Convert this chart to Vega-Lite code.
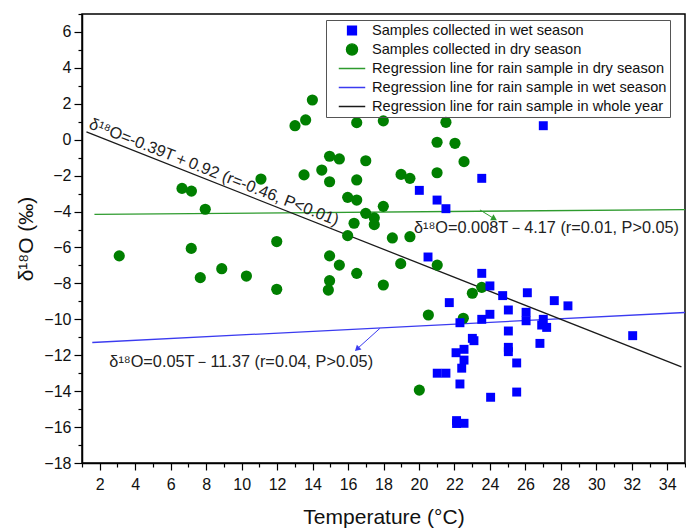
{
  "$schema": "https://vega.github.io/schema/vega-lite/v6.json",
  "width": 603,
  "height": 449,
  "autosize": {"type": "none"},
  "padding": {"left": 82, "top": 14, "right": 1, "bottom": 66},
  "config": {
    "font": "Liberation Sans",
    "view": {"stroke": "#000", "strokeWidth": 1.5},
    "axis": {"domainColor": "#000", "domainWidth": 1.5, "tickColor": "#000", "tickWidth": 1.2, "labelColor": "#111", "titleColor": "#111", "labelFont": "Liberation Sans", "titleFont": "Liberation Sans", "titleFontWeight": "normal", "grid": false, "labelFontSize": 16, "titleFontSize": 21, "labelOverlap": false}
  },
  "resolve": {"axis": {"x": "independent", "y": "independent"}},
  "datasets": {
    "pts": [
      {"T": 3.1, "d": -6.47, "series": "Samples collected in dry season"},
      {"T": 6.64, "d": -2.71, "series": "Samples collected in dry season"},
      {"T": 7.17, "d": -2.86, "series": "Samples collected in dry season"},
      {"T": 7.95, "d": -3.87, "series": "Samples collected in dry season"},
      {"T": 11.09, "d": -2.19, "series": "Samples collected in dry season"},
      {"T": 7.16, "d": -6.05, "series": "Samples collected in dry season"},
      {"T": 7.67, "d": -7.68, "series": "Samples collected in dry season"},
      {"T": 8.88, "d": -7.18, "series": "Samples collected in dry season"},
      {"T": 10.27, "d": -7.59, "series": "Samples collected in dry season"},
      {"T": 11.98, "d": -5.67, "series": "Samples collected in dry season"},
      {"T": 11.98, "d": -8.33, "series": "Samples collected in dry season"},
      {"T": 13.99, "d": 2.21, "series": "Samples collected in dry season"},
      {"T": 13.01, "d": 0.78, "series": "Samples collected in dry season"},
      {"T": 13.61, "d": 1.1, "series": "Samples collected in dry season"},
      {"T": 16.49, "d": 0.95, "series": "Samples collected in dry season"},
      {"T": 17.99, "d": 1.05, "series": "Samples collected in dry season"},
      {"T": 14.96, "d": -0.92, "series": "Samples collected in dry season"},
      {"T": 15.51, "d": -1.07, "series": "Samples collected in dry season"},
      {"T": 17.0, "d": -1.17, "series": "Samples collected in dry season"},
      {"T": 14.52, "d": -1.69, "series": "Samples collected in dry season"},
      {"T": 13.52, "d": -1.96, "series": "Samples collected in dry season"},
      {"T": 14.96, "d": -2.34, "series": "Samples collected in dry season"},
      {"T": 16.49, "d": -2.24, "series": "Samples collected in dry season"},
      {"T": 18.99, "d": -1.93, "series": "Samples collected in dry season"},
      {"T": 19.49, "d": -2.15, "series": "Samples collected in dry season"},
      {"T": 15.98, "d": -3.21, "series": "Samples collected in dry season"},
      {"T": 16.49, "d": -3.36, "series": "Samples collected in dry season"},
      {"T": 17.99, "d": -3.71, "series": "Samples collected in dry season"},
      {"T": 17.0, "d": -4.1, "series": "Samples collected in dry season"},
      {"T": 17.48, "d": -4.35, "series": "Samples collected in dry season"},
      {"T": 17.48, "d": -4.73, "series": "Samples collected in dry season"},
      {"T": 16.34, "d": -4.65, "series": "Samples collected in dry season"},
      {"T": 15.98, "d": -5.34, "series": "Samples collected in dry season"},
      {"T": 18.5, "d": -5.47, "series": "Samples collected in dry season"},
      {"T": 19.49, "d": -5.4, "series": "Samples collected in dry season"},
      {"T": 18.97, "d": -6.9, "series": "Samples collected in dry season"},
      {"T": 14.96, "d": -6.47, "series": "Samples collected in dry season"},
      {"T": 15.51, "d": -6.98, "series": "Samples collected in dry season"},
      {"T": 16.49, "d": -7.44, "series": "Samples collected in dry season"},
      {"T": 14.96, "d": -7.85, "series": "Samples collected in dry season"},
      {"T": 14.89, "d": -8.37, "series": "Samples collected in dry season"},
      {"T": 17.99, "d": -8.09, "series": "Samples collected in dry season"},
      {"T": 21.52, "d": 0.97, "series": "Samples collected in dry season"},
      {"T": 21.02, "d": -0.14, "series": "Samples collected in dry season"},
      {"T": 22.03, "d": -0.2, "series": "Samples collected in dry season"},
      {"T": 22.54, "d": -1.22, "series": "Samples collected in dry season"},
      {"T": 21.02, "d": -1.84, "series": "Samples collected in dry season"},
      {"T": 21.03, "d": -6.98, "series": "Samples collected in dry season"},
      {"T": 23.54, "d": -8.22, "series": "Samples collected in dry season"},
      {"T": 23.01, "d": -8.55, "series": "Samples collected in dry season"},
      {"T": 20.53, "d": -9.76, "series": "Samples collected in dry season"},
      {"T": 22.5, "d": -9.94, "series": "Samples collected in dry season"},
      {"T": 20.02, "d": -13.94, "series": "Samples collected in dry season"},
      {"T": 27.01, "d": 0.78, "series": "Samples collected in wet season"},
      {"T": 23.54, "d": -2.15, "series": "Samples collected in wet season"},
      {"T": 20.02, "d": -2.82, "series": "Samples collected in wet season"},
      {"T": 21.02, "d": -3.36, "series": "Samples collected in wet season"},
      {"T": 21.52, "d": -3.84, "series": "Samples collected in wet season"},
      {"T": 20.51, "d": -6.53, "series": "Samples collected in wet season"},
      {"T": 23.54, "d": -7.44, "series": "Samples collected in wet season"},
      {"T": 24.0, "d": -8.14, "series": "Samples collected in wet season"},
      {"T": 24.72, "d": -8.68, "series": "Samples collected in wet season"},
      {"T": 26.11, "d": -8.52, "series": "Samples collected in wet season"},
      {"T": 27.63, "d": -8.96, "series": "Samples collected in wet season"},
      {"T": 28.4, "d": -9.25, "series": "Samples collected in wet season"},
      {"T": 21.71, "d": -9.07, "series": "Samples collected in wet season"},
      {"T": 24.0, "d": -9.72, "series": "Samples collected in wet season"},
      {"T": 25.04, "d": -9.48, "series": "Samples collected in wet season"},
      {"T": 26.04, "d": -9.61, "series": "Samples collected in wet season"},
      {"T": 26.04, "d": -10.08, "series": "Samples collected in wet season"},
      {"T": 23.54, "d": -10.0, "series": "Samples collected in wet season"},
      {"T": 22.31, "d": -10.19, "series": "Samples collected in wet season"},
      {"T": 27.01, "d": -10.0, "series": "Samples collected in wet season"},
      {"T": 26.92, "d": -10.32, "series": "Samples collected in wet season"},
      {"T": 27.2, "d": -10.45, "series": "Samples collected in wet season"},
      {"T": 25.04, "d": -10.65, "series": "Samples collected in wet season"},
      {"T": 23.01, "d": -11.06, "series": "Samples collected in wet season"},
      {"T": 23.1, "d": -11.19, "series": "Samples collected in wet season"},
      {"T": 25.04, "d": -11.56, "series": "Samples collected in wet season"},
      {"T": 25.04, "d": -11.8, "series": "Samples collected in wet season"},
      {"T": 26.82, "d": -11.34, "series": "Samples collected in wet season"},
      {"T": 22.54, "d": -11.67, "series": "Samples collected in wet season"},
      {"T": 22.09, "d": -11.86, "series": "Samples collected in wet season"},
      {"T": 22.54, "d": -12.27, "series": "Samples collected in wet season"},
      {"T": 25.51, "d": -12.43, "series": "Samples collected in wet season"},
      {"T": 22.41, "d": -12.72, "series": "Samples collected in wet season"},
      {"T": 21.03, "d": -13.0, "series": "Samples collected in wet season"},
      {"T": 21.52, "d": -13.0, "series": "Samples collected in wet season"},
      {"T": 22.31, "d": -13.6, "series": "Samples collected in wet season"},
      {"T": 24.04, "d": -14.34, "series": "Samples collected in wet season"},
      {"T": 25.51, "d": -14.05, "series": "Samples collected in wet season"},
      {"T": 22.12, "d": -15.64, "series": "Samples collected in wet season"},
      {"T": 22.12, "d": -15.8, "series": "Samples collected in wet season"},
      {"T": 22.54, "d": -15.79, "series": "Samples collected in wet season"},
      {"T": 32.05, "d": -10.91, "series": "Samples collected in wet season"}
    ],
    "lines": [
      {"T": 1.7, "d": -4.156, "series": "Regression line for rain sample in dry season"},
      {"T": 35, "d": -3.89, "series": "Regression line for rain sample in dry season"},
      {"T": 1.58, "d": -11.29, "series": "Regression line for rain sample in wet season"},
      {"T": 35, "d": -9.62, "series": "Regression line for rain sample in wet season"},
      {"T": 1.25, "d": 0.4325, "series": "Regression line for rain sample in whole year"},
      {"T": 34.8, "d": -12.652, "series": "Regression line for rain sample in whole year"}
    ]
  },
  "layer": [
    {
      "data": {"name": "lines"},
      "mark": {"type": "line", "strokeWidth": 1.3, "clip": true},
      "encoding": {
        "x": {"field": "T", "type": "quantitative",
              "axis": {"orient": "bottom", "values": [1,3,5,7,9,11,13,15,17,19,21,23,25,27,29,31,33,35], "labels": false, "domain": false, "tickSize": 4, "title": null}},
        "y": {"field": "d", "type": "quantitative",
              "axis": {"orient": "left", "values": [-17,-15,-13,-11,-9,-7,-5,-3,-1,1,3,5,7], "labels": false, "domain": false, "tickSize": 4, "title": null}},
        "detail": {"field": "series"},
        "color": {"field": "series", "type": "nominal"}
      }
    },
    {
      "data": {"values": [{"T": 23.44, "d": -3.91, "T2": 24.3, "d2": -4.43}]},
      "mark": {"type": "rule", "color": "#2e9b2e", "strokeWidth": 1},
      "encoding": {
        "x": {"field": "T", "type": "quantitative", "axis": null},
        "y": {"field": "d", "type": "quantitative", "axis": null},
        "x2": {"field": "T2"},
        "y2": {"field": "d2"}
      }
    },
    {
      "data": {"values": [{"T": 24.2, "d": -4.37}]},
      "mark": {"type": "point", "shape": "triangle", "filled": true, "size": 45, "angle": 120, "color": "#2e9b2e", "opacity": 1},
      "encoding": {
        "x": {"field": "T", "type": "quantitative", "axis": null},
        "y": {"field": "d", "type": "quantitative", "axis": null}
      }
    },
    {
      "data": {"values": [{"T": 17.8, "d": -10.5, "T2": 16.45, "d2": -11.7}]},
      "mark": {"type": "rule", "color": "#3b3bf0", "strokeWidth": 1},
      "encoding": {
        "x": {"field": "T", "type": "quantitative", "axis": null},
        "y": {"field": "d", "type": "quantitative", "axis": null},
        "x2": {"field": "T2"},
        "y2": {"field": "d2"}
      }
    },
    {
      "data": {"values": [{"T": 16.55, "d": -11.62}]},
      "mark": {"type": "point", "shape": "triangle", "filled": true, "size": 45, "angle": 227, "color": "#3b3bf0", "opacity": 1},
      "encoding": {
        "x": {"field": "T", "type": "quantitative", "axis": null},
        "y": {"field": "d", "type": "quantitative", "axis": null}
      }
    },
    {
      "data": {"values": [{"T": 1.34, "d": 0.65, "label": "δ¹⁸O=-0.39T＋0.92 (r=-0.46, P<0.01)"}]},
      "mark": {"type": "text", "align": "left", "baseline": "alphabetic", "angle": 21.5, "fontSize": 16.3, "color": "#222"},
      "encoding": {
        "x": {"field": "T", "type": "quantitative", "axis": null},
        "y": {"field": "d", "type": "quantitative", "axis": null},
        "text": {"field": "label"}
      }
    },
    {
      "data": {"values": [{"T": 19.72, "d": -5.19, "label": "δ¹⁸O=0.008T－4.17 (r=0.01, P>0.05)"}, {"T": 2.54, "d": -12.64, "label": "δ¹⁸O=0.05T－11.37 (r=0.04, P>0.05)"}]},
      "mark": {"type": "text", "align": "left", "baseline": "alphabetic", "fontSize": 16.3, "color": "#222"},
      "encoding": {
        "x": {"field": "T", "type": "quantitative", "axis": null},
        "y": {"field": "d", "type": "quantitative", "axis": null},
        "text": {"field": "label"}
      }
    },
    {
      "data": {"name": "pts"},
      "mark": {"type": "point", "filled": true, "opacity": 1},
      "encoding": {
        "x": {
          "field": "T", "type": "quantitative",
          "scale": {"domain": [1, 35], "nice": false, "zero": false},
          "axis": {"orient": "bottom", "values": [2,4,6,8,10,12,14,16,18,20,22,24,26,28,30,32,34],
                   "tickSize": 7, "labelPadding": 6, "title": "Temperature (°C)", "titlePadding": 14}
        },
        "y": {
          "field": "d", "type": "quantitative",
          "scale": {"domain": [-18, 7], "nice": false, "zero": false},
          "axis": {"orient": "left", "values": [-18,-16,-14,-12,-10,-8,-6,-4,-2,0,2,4,6],
                   "tickSize": 8, "labelPadding": 3, "title": "δ¹⁸O (‰)", "titlePadding": 7}
        },
        "color": {
          "field": "series", "type": "nominal",
          "scale": {
            "domain": ["Samples collected in wet season", "Samples collected in dry season", "Regression line for rain sample in dry season", "Regression line for rain sample in wet season", "Regression line for rain sample in whole year"],
            "range": ["#0000ff", "#007f00", "#2e9b2e", "#3b3bf0", "#1a1a1a"]
          },
          "legend": {
            "title": null, "orient": "none", "legendX": 244, "legendY": 6,
            "strokeColor": "#555", "padding": 3, "labelFontSize": 14.6, "labelColor": "#111", "rowPadding": 3,
            "labelLimit": 400, "clipHeight": 15, "symbolOffset": 9, "labelOffset": 6,
            "symbolStrokeWidth": 1.3,
            "encode": {"symbols": {"update": {"stroke": {"scale": "color", "field": "value"}}}}
          }
        },
        "shape": {
          "field": "series", "type": "nominal",
          "scale": {
            "domain": ["Samples collected in wet season", "Samples collected in dry season", "Regression line for rain sample in dry season", "Regression line for rain sample in wet season", "Regression line for rain sample in whole year"],
            "range": ["square", "circle", "stroke", "stroke", "stroke"]
          }
        },
        "size": {
          "field": "series", "type": "nominal",
          "scale": {
            "type": "ordinal",
            "domain": ["Samples collected in wet season", "Samples collected in dry season", "Regression line for rain sample in dry season", "Regression line for rain sample in wet season", "Regression line for rain sample in whole year"],
            "range": [80, 125, 700, 700, 700]
          }
        }
      }
    }
  ]
}
